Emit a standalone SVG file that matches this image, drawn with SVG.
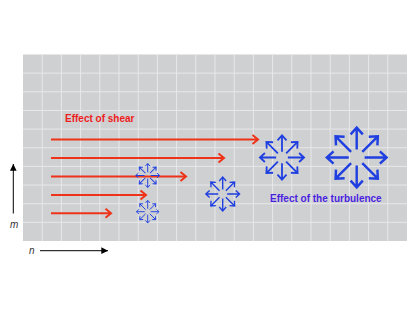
<svg xmlns="http://www.w3.org/2000/svg" xmlns:xlink="http://www.w3.org/1999/xlink" width="415" height="312" viewBox="0 0 415 312">
<style>
.grid{stroke:#e8e8ea;stroke-width:1;fill:none}
.shear{stroke:#ee3318;stroke-width:2;fill:none;marker-end:url(#rh)}
.arm{stroke:#1f3fe0;stroke-width:0.8;fill:none;stroke-linejoin:miter}
.axis{stroke:#000;stroke-width:1;fill:none;marker-end:url(#ah)}
.lbl{font-family:"Liberation Sans",Arial,sans-serif;font-weight:bold;font-size:10px}
.ax{font-family:"Liberation Sans",Arial,sans-serif;font-style:italic;font-size:10px;fill:#333}
</style>
<defs>
<marker id="rh" markerUnits="userSpaceOnUse" markerWidth="12" markerHeight="12" viewBox="-8 -6 10 12" refX="0" refY="0" orient="auto" overflow="visible">
<path d="M-5.5,-4.5 L0,0 L-5.5,4.5" stroke="#ee3318" stroke-width="2" fill="none"/>
</marker>
<marker id="ah" markerUnits="userSpaceOnUse" markerWidth="8" markerHeight="8" viewBox="-6 -3 6 6" refX="0" refY="0" orient="auto">
<path d="M-5,-2.5 L0,0 L-5,2.5 Z" fill="#000"/>
</marker>
<g id="a1"><path class="arm" d="M2.6,0 H9.8 M7.6,-2 L9.8,0 L7.6,2"/></g>
<g id="star">
<use xlink:href="#a1"/>
<use xlink:href="#a1" transform="rotate(45)"/>
<use xlink:href="#a1" transform="rotate(90)"/>
<use xlink:href="#a1" transform="rotate(135)"/>
<use xlink:href="#a1" transform="rotate(180)"/>
<use xlink:href="#a1" transform="rotate(225)"/>
<use xlink:href="#a1" transform="rotate(270)"/>
<use xlink:href="#a1" transform="rotate(315)"/>
</g>
</defs>
<rect x="0" y="0" width="415" height="312" fill="#fff"/>
<g id="field">
<rect x="23" y="54.5" width="384" height="186.5" fill="#cfd0d2"/>
<path class="grid" d="M42.2,54.5V241M61.4,54.5V241M80.6,54.5V241M99.8,54.5V241M119,54.5V241M138.2,54.5V241M157.4,54.5V241M176.6,54.5V241M195.8,54.5V241M215,54.5V241M234.2,54.5V241M253.4,54.5V241M272.6,54.5V241M291.8,54.5V241M311,54.5V241M330.2,54.5V241M349.4,54.5V241M368.6,54.5V241M387.8,54.5V241M23,73.15H407M23,91.8H407M23,110.45H407M23,129.1H407M23,147.75H407M23,166.4H407M23,185.05H407M23,203.7H407M23,222.35H407"/>
</g>
<g id="connectors">
<line class="shear" x1="51" y1="139.5" x2="258" y2="139.5"/>
<line class="shear" x1="51" y1="158" x2="224" y2="158"/>
<line class="shear" x1="51" y1="176.5" x2="186" y2="176.5"/>
<line class="shear" x1="51" y1="195" x2="146" y2="195"/>
<line class="shear" x1="51" y1="213.3" x2="111" y2="213.3"/>
<line class="axis" x1="13.3" y1="213.5" x2="13.3" y2="164"/>
<line class="axis" x1="40" y1="250.7" x2="108" y2="250.7"/>
</g>
<g id="starA"><use xlink:href="#star" transform="translate(147.7,175.5) scale(1.22)"/></g>
<g id="starB"><use xlink:href="#star" transform="translate(147.7,211.7) scale(1.15)"/></g>
<g id="starC"><use xlink:href="#star" transform="translate(222.7,194) scale(1.72)"/></g>
<g id="starD"><use xlink:href="#star" transform="translate(282,157.5) scale(2.25)"/></g>
<g id="starE"><use xlink:href="#star" transform="translate(356.7,157.5) scale(3.05)"/></g>
<g id="labels">
<text class="lbl" x="65" y="121.7" fill="#ee1c1c">Effect of shear</text>
<text class="lbl" x="270" y="201.7" fill="#4a1fe0">Effect of the turbulence</text>
<text class="ax" x="10" y="228">m</text>
<text class="ax" x="29" y="253.5">n</text>
</g>
</svg>
